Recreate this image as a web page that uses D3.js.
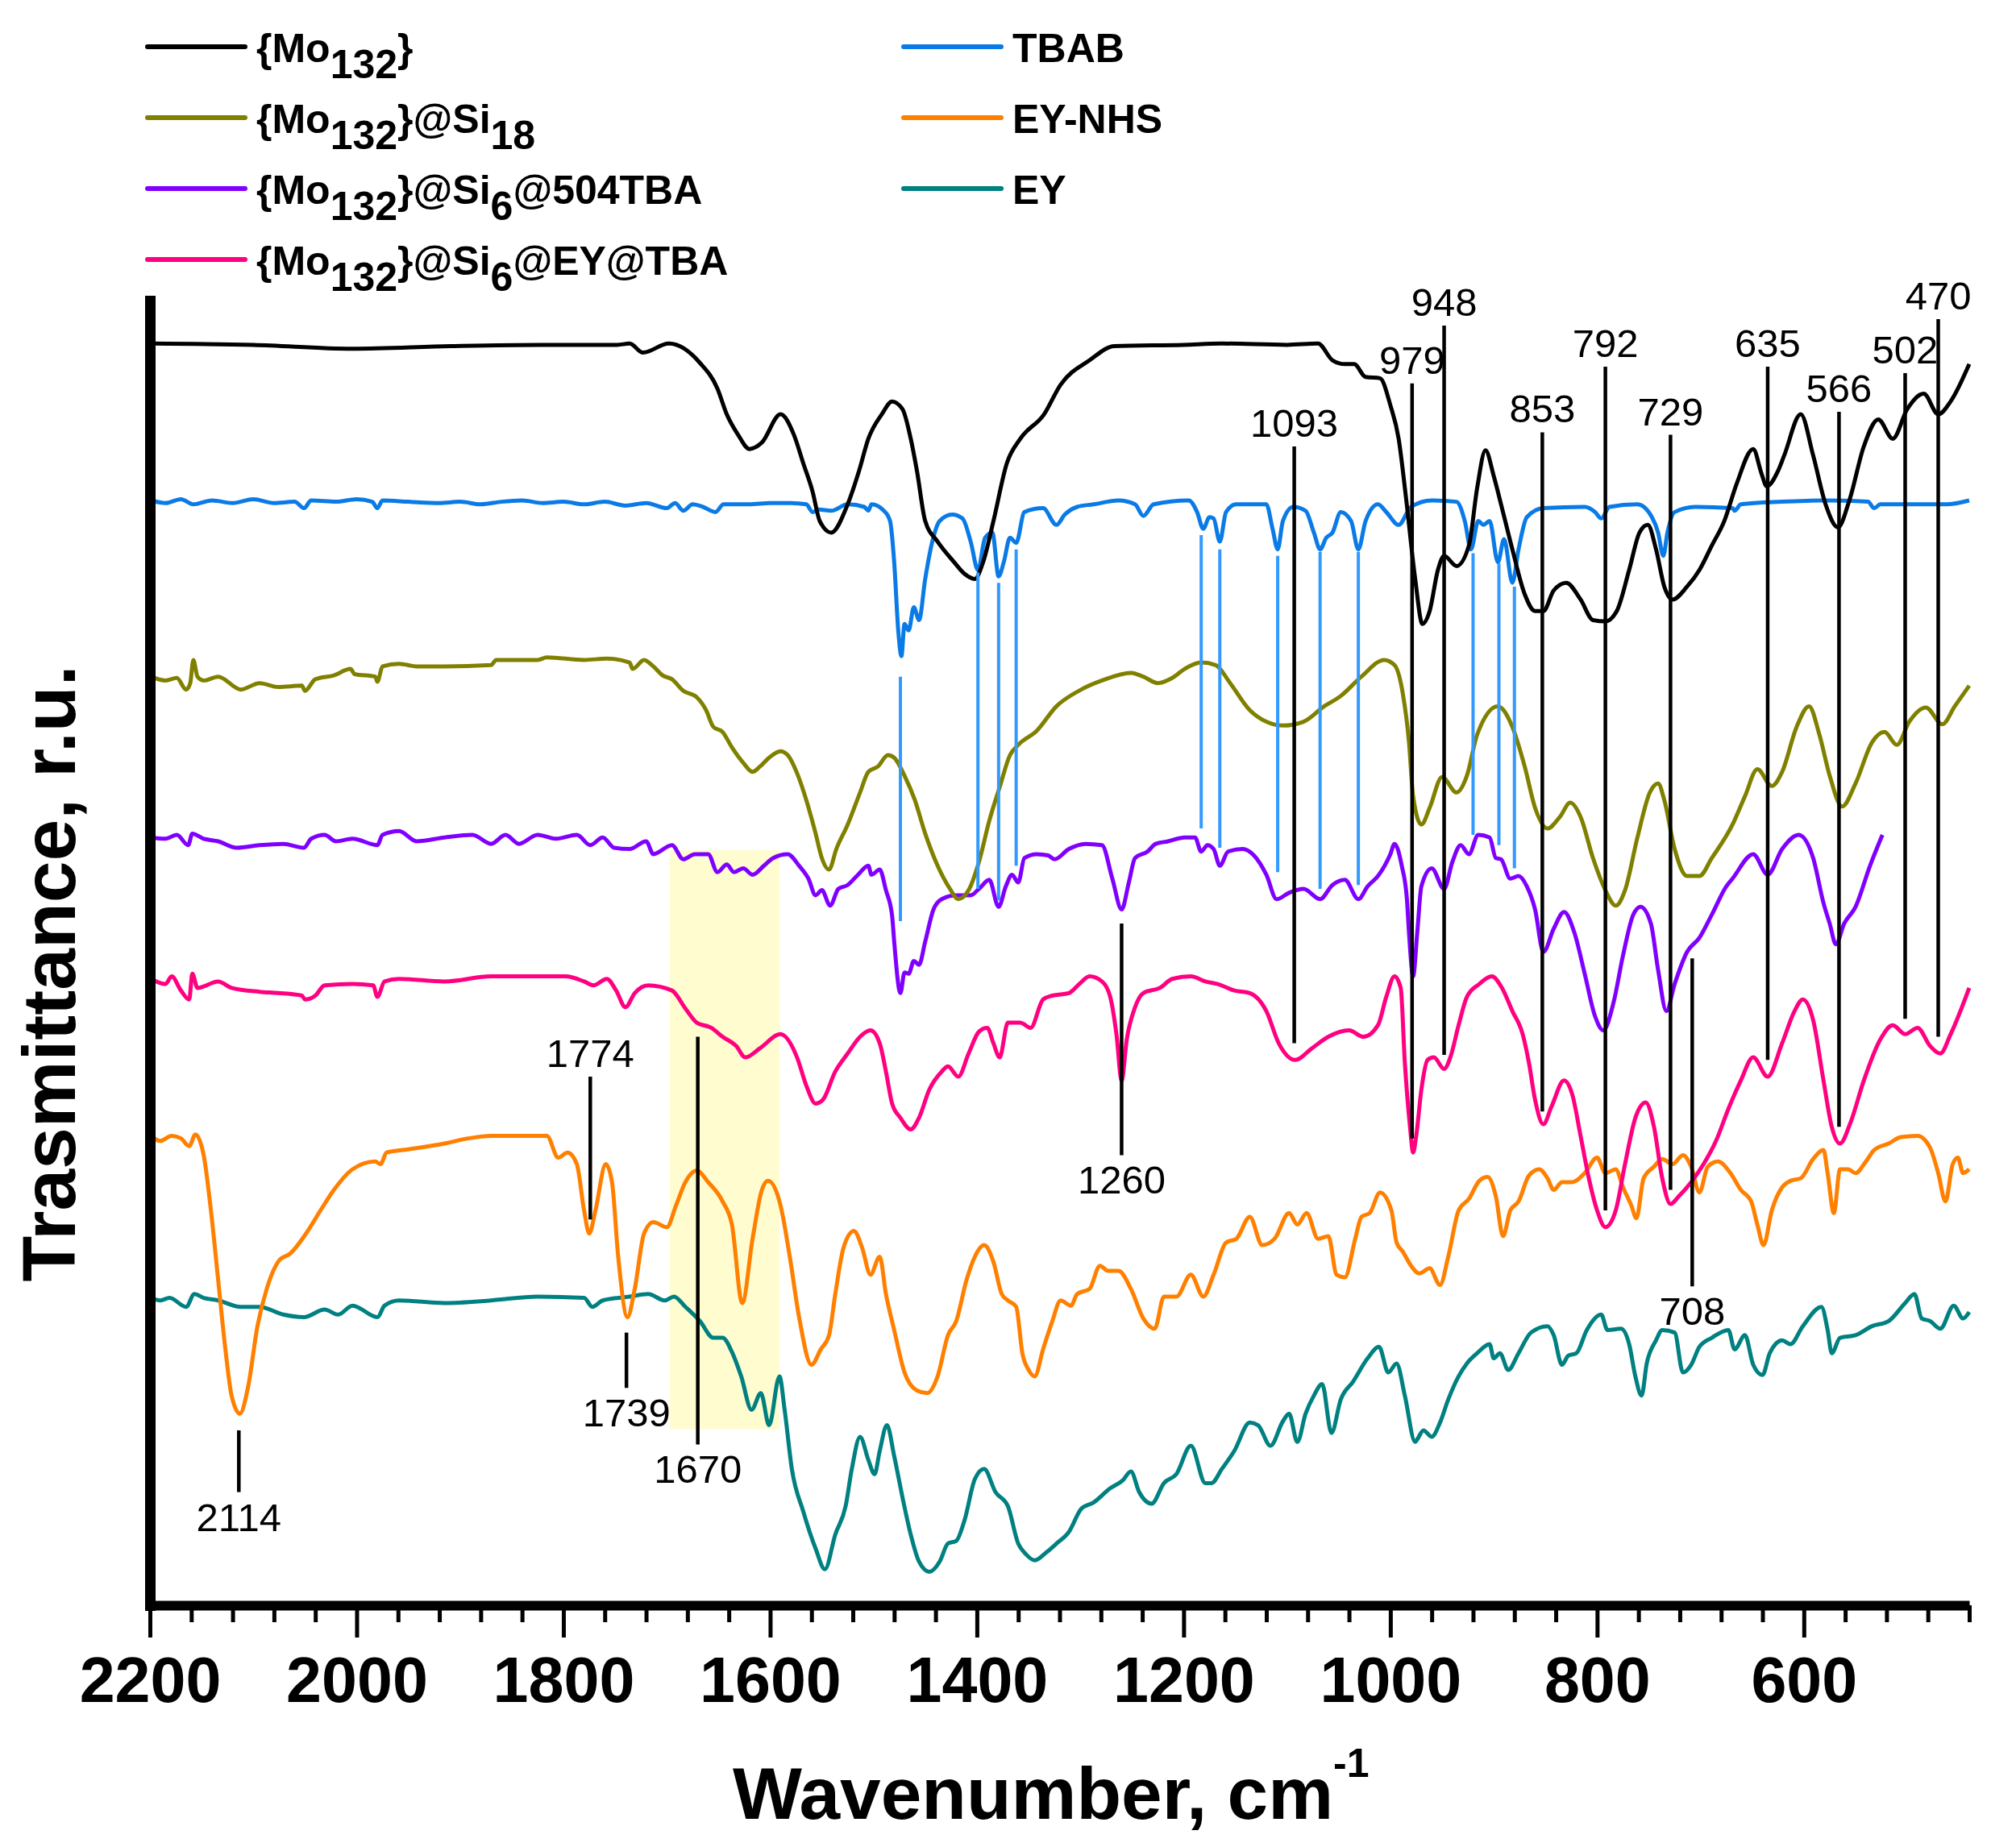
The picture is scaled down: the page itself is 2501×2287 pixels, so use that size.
<!DOCTYPE html>
<html>
<head>
<meta charset="utf-8">
<script src="https://cdn.jsdelivr.net/npm/d3@7"></script>
<style>
  body { margin: 0; background: #fff; }
  svg { display: block; }
  text { font-family: "Liberation Sans", Arial, Helvetica, sans-serif; }
</style>
</head>
<body>
<div id="chart"></div>
<script>
// FTIR spectra, stacked; x = wavenumber (cm-1), y = transmittance in relative units (offset traces)

var xMajorTicks = [2200, 2000, 1800, 1600, 1400, 1200, 1000, 800, 600];
var xMinorTicks = [2160, 2120, 2080, 2040, 1960, 1920, 1880, 1840, 1760, 1720, 1680, 1640,
                   1560, 1520, 1480, 1440, 1360, 1320, 1280, 1240, 1160, 1120, 1080, 1040,
                   960, 920, 880, 840, 760, 720, 680, 640, 560, 520, 480, 440];

var mo132 = [[2198,981],[2100,980],[2004,977],[1909,979],[1822,980],[1748,980],[1736,981],[1723,974],[1698,981],[1668,966],[1651,946],[1642,926],[1631,910],[1620,899],[1608,904],[1590,926],[1577,910],[1568,888],[1559,866],[1552,843],[1541,834],[1525,856],[1514,882],[1505,907],[1492,926],[1482,936],[1472,930],[1464,907],[1458,882],[1450,843],[1438,827],[1422,811],[1412,802],[1402,798],[1394,811],[1384,843],[1371,888],[1358,907],[1335,926],[1319,949],[1291,968],[1267,979],[1200,980],[1163,981],[1100,980],[1070,981],[1056,968],[1044,965],[1035,965],[1024,955],[1010,954],[1000,933],[992,907],[985,862],[976,798],[969,763],[962,773],[954,805],[948,816],[936,808],[924,824],[916,869],[908,898],[900,878],[892,853],[882,821],[870,786],[860,773],[852,773],[842,789],[830,795],[816,782],[804,766],[792,765],[781,773],[769,805],[759,834],[751,840],[743,821],[735,792],[727,782],[713,792],[701,805],[689,824],[677,843],[665,872],[649,899],[641,880],[636,870],[625,882],[619,894],[603,926],[591,894],[579,856],[567,838],[556,859],[542,901],[528,922],[514,907],[500,930],[484,942],[470,926],[458,936],[440,965]];

var tbab = [[2199,859],[2185,857],[2170,860],[2158,856],[2140,859],[2120,857],[2100,860],[2080,857],[2060,858],[2051,853],[2044,859],[2020,858],[2000,860],[1985,858],[1980,853],[1975,859],[1950,858],[1920,857],[1900,858],[1880,856],[1860,858],[1840,859],[1820,857],[1800,858],[1780,856],[1760,858],[1740,855],[1720,857],[1700,853],[1692,857],[1684,851],[1675,856],[1665,854],[1653,850],[1645,856],[1620,856],[1600,857],[1580,857],[1565,856],[1559,850],[1553,852],[1541,851],[1525,856],[1509,854],[1505,851],[1502,856],[1490,851],[1484,843],[1480,811],[1476,757],[1473,738],[1470,763],[1466,758],[1461,776],[1456,766],[1450,798],[1444,824],[1436,843],[1424,848],[1414,845],[1406,827],[1399,805],[1392,830],[1385,834],[1379,800],[1374,811],[1368,830],[1362,826],[1354,850],[1336,853],[1323,840],[1315,848],[1303,854],[1287,856],[1263,859],[1247,856],[1239,847],[1229,856],[1195,859],[1187,850],[1181,837],[1175,846],[1171,845],[1165,827],[1159,850],[1149,856],[1120,856],[1114,837],[1109,821],[1104,843],[1094,854],[1082,851],[1074,834],[1068,821],[1062,830],[1056,834],[1048,850],[1038,843],[1031,821],[1024,843],[1012,856],[1004,850],[992,840],[980,854],[960,859],[936,858],[928,843],[922,821],[915,843],[910,840],[904,843],[896,811],[890,829],[882,795],[876,821],[868,846],[852,853],[812,854],[802,850],[796,845],[788,854],[761,856],[747,846],[741,834],[736,816],[732,834],[725,850],[705,854],[669,853],[667,851],[661,856],[621,858],[581,859],[538,858],[532,853],[526,856],[462,856],[440,859]];

var si18 = [[2199,722],[2185,719],[2174,721],[2165,712],[2161,717],[2158,735],[2154,722],[2148,719],[2134,722],[2112,712],[2094,717],[2076,714],[2053,715],[2050,711],[2040,720],[2022,723],[2006,728],[2002,724],[1982,722],[1980,718],[1975,730],[1959,732],[1942,730],[1915,730],[1870,731],[1865,735],[1825,735],[1816,737],[1780,735],[1758,736],[1736,733],[1733,728],[1722,735],[1713,730],[1704,723],[1695,720],[1684,711],[1671,706],[1662,696],[1655,683],[1646,679],[1637,667],[1626,655],[1617,648],[1610,652],[1601,659],[1590,664],[1583,661],[1574,647],[1565,626],[1556,600],[1550,581],[1543,572],[1536,588],[1525,607],[1513,632],[1505,648],[1496,652],[1486,661],[1480,659],[1470,645],[1460,626],[1450,600],[1438,575],[1426,557],[1418,549],[1408,556],[1398,578],[1388,610],[1378,636],[1368,661],[1360,669],[1342,680],[1323,699],[1299,712],[1279,719],[1251,725],[1239,722],[1225,717],[1211,721],[1199,728],[1183,733],[1169,731],[1155,717],[1136,696],[1120,687],[1104,684],[1084,687],[1064,699],[1048,707],[1028,722],[1006,735],[996,731],[988,709],[982,671],[978,629],[970,607],[962,620],[950,644],[936,632],[926,645],[916,677],[896,699],[882,683],[870,652],[860,620],[848,604],[836,613],[826,624],[816,613],[804,581],[792,556],[782,544],[773,556],[761,597],[749,632],[741,639],[735,626],[725,588],[713,567],[701,567],[689,581],[669,607],[657,629],[645,650],[631,637],[621,648],[607,683],[595,699],[585,677],[575,645],[563,621],[550,639],[534,671],[522,679],[510,669],[498,687],[482,698],[466,685],[454,699],[440,715]];

var tba504 = [[2199,597],[2185,596],[2174,599],[2163,591],[2159,600],[2148,596],[2134,594],[2116,589],[2094,591],[2071,592],[2051,589],[2044,596],[2031,599],[2020,594],[2004,596],[1980,591],[1975,599],[1959,602],[1942,594],[1915,597],[1888,599],[1870,592],[1856,599],[1843,592],[1825,599],[1807,596],[1787,599],[1774,591],[1762,597],[1751,589],[1736,588],[1720,594],[1713,584],[1695,591],[1684,580],[1673,584],[1660,584],[1651,570],[1642,576],[1635,570],[1626,573],[1617,568],[1606,575],[1597,581],[1583,584],[1572,575],[1563,565],[1556,552],[1550,556],[1542,544],[1534,557],[1525,560],[1515,568],[1505,575],[1502,568],[1494,572],[1488,556],[1482,536],[1480,516],[1474,476],[1470,492],[1466,491],[1461,501],[1456,498],[1450,516],[1442,541],[1434,549],[1420,552],[1406,552],[1398,557],[1388,564],[1379,543],[1372,559],[1366,568],[1360,562],[1354,581],[1342,584],[1331,583],[1325,580],[1311,588],[1295,592],[1279,591],[1269,565],[1260,541],[1253,562],[1247,581],[1235,586],[1227,592],[1215,594],[1199,597],[1189,597],[1183,586],[1177,591],[1171,588],[1165,575],[1157,586],[1143,588],[1132,583],[1120,568],[1110,549],[1098,554],[1084,557],[1068,549],[1056,560],[1044,564],[1031,549],[1022,559],[1012,567],[1000,584],[996,592],[989,575],[984,549],[982,523],[978,489],[974,523],[970,559],[960,573],[948,557],[940,578],[932,591],[924,584],[915,599],[904,597],[898,581],[893,580],[884,565],[876,567],[868,559],[860,541],[852,508],[842,526],[832,539],[822,523],[812,491],[802,458],[794,447],[784,469],[775,505],[765,537],[758,543],[748,530],[741,494],[733,462],[725,483],[713,508],[701,519],[689,537],[675,559],[669,565],[649,584],[635,568],[621,588],[605,599],[591,581],[581,546],[575,530],[569,514],[561,530],[550,543],[536,575],[524,599]];

var eyTba = [[2199,487],[2185,483],[2179,489],[2170,478],[2162,471],[2159,491],[2154,480],[2134,485],[2121,480],[2094,477],[2076,476],[2053,474],[2050,471],[2040,474],[2031,482],[2004,483],[1984,482],[1980,473],[1973,485],[1959,487],[1915,485],[1870,489],[1825,489],[1798,489],[1780,485],[1771,482],[1758,487],[1749,478],[1740,465],[1731,476],[1718,482],[1695,478],[1682,464],[1671,453],[1657,449],[1646,442],[1633,435],[1624,426],[1610,433],[1590,444],[1574,426],[1565,404],[1556,390],[1549,393],[1537,415],[1525,429],[1513,442],[1503,447],[1494,437],[1488,415],[1482,390],[1474,379],[1464,370],[1456,379],[1446,401],[1434,415],[1428,419],[1418,411],[1408,429],[1398,446],[1390,449],[1384,437],[1378,426],[1370,453],[1358,453],[1348,449],[1336,471],[1327,474],[1311,476],[1301,483],[1291,489],[1279,485],[1271,473],[1265,444],[1260,408],[1255,440],[1247,465],[1239,476],[1223,480],[1211,487],[1193,489],[1179,485],[1167,483],[1151,478],[1136,476],[1120,462],[1108,437],[1092,424],[1076,433],[1060,442],[1040,447],[1026,442],[1012,451],[1004,473],[996,489],[990,480],[986,422],[981,372],[978,352],[975,365],[970,401],[964,424],[958,426],[948,417],[942,426],[934,451],[926,473],[914,483],[902,489],[892,480],[882,462],[872,444],[866,422],[860,393],[852,374],[844,388],[832,408],[824,397],[816,365],[808,332],[800,307],[792,294],[782,307],[773,343],[763,379],[753,391],[745,372],[737,332],[729,312],[721,318],[709,329],[697,343],[685,361],[673,386],[661,408],[649,426],[635,411],[621,437],[609,462],[601,471],[591,455],[581,408],[573,372],[565,359],[555,375],[542,408],[526,440],[514,451],[502,444],[490,449],[478,435],[468,429],[458,444],[440,480]];

var eyNhs = [[2199,365],[2190,361],[2179,365],[2170,363],[2162,357],[2156,366],[2148,350],[2141,307],[2134,253],[2127,199],[2121,163],[2113,149],[2105,170],[2096,217],[2087,246],[2074,269],[2065,273],[2049,289],[2035,307],[2022,323],[2004,339],[1982,345],[1977,343],[1971,352],[1955,354],[1937,356],[1915,359],[1892,363],[1870,365],[1847,365],[1816,365],[1805,348],[1796,352],[1787,343],[1780,307],[1775,289],[1769,307],[1759,343],[1753,329],[1747,271],[1738,224],[1731,246],[1722,289],[1713,298],[1700,294],[1691,311],[1682,329],[1671,338],[1660,329],[1646,314],[1637,296],[1627,235],[1617,285],[1608,323],[1602,330],[1590,311],[1581,271],[1572,224],[1560,187],[1551,199],[1543,210],[1537,242],[1529,278],[1519,291],[1511,278],[1503,257],[1494,271],[1488,242],[1480,214],[1470,181],[1458,167],[1448,165],[1438,178],[1428,210],[1420,221],[1410,253],[1402,271],[1393,280],[1384,267],[1376,242],[1370,237],[1362,232],[1356,196],[1350,183],[1344,178],[1336,199],[1327,221],[1319,237],[1309,233],[1303,242],[1291,246],[1281,264],[1273,260],[1263,260],[1251,246],[1239,223],[1228,215],[1219,240],[1207,240],[1193,257],[1181,240],[1171,257],[1159,282],[1149,285],[1136,302],[1124,280],[1112,285],[1098,305],[1090,296],[1081,305],[1070,285],[1060,287],[1052,257],[1044,255],[1034,285],[1028,302],[1020,305],[1010,321],[999,307],[994,282],[988,275],[980,264],[972,258],[962,262],[952,249],[944,271],[934,307],[924,316],[914,330],[906,333],[898,318],[891,287],[884,307],[876,314],[866,334],[856,339],[848,332],[842,323],[834,329],[824,329],[812,336],[800,348],[792,336],[782,339],[775,325],[767,311],[762,301],[755,332],[745,341],[737,347],[727,343],[717,350],[709,341],[701,321],[693,341],[683,345],[671,336],[661,323],[651,314],[645,296],[639,280],[631,307],[621,325],[613,330],[603,332],[591,347],[581,354],[577,336],[571,305],[565,339],[557,339],[550,336],[540,345],[532,354],[518,359],[506,364],[490,365],[478,356],[470,336],[463,314],[456,343],[451,348],[446,336],[440,339]];

var ey = [[2199,239],[2190,237],[2181,239],[2165,232],[2157,242],[2148,239],[2134,237],[2112,232],[2094,232],[2071,226],[2051,224],[2031,230],[2018,226],[2004,233],[1980,224],[1973,233],[1959,237],[1915,235],[1870,237],[1825,240],[1780,239],[1772,232],[1762,237],[1736,240],[1718,242],[1702,237],[1693,240],[1682,232],[1668,221],[1655,208],[1646,208],[1637,197],[1628,178],[1618,152],[1609,165],[1601,140],[1591,178],[1586,152],[1579,106],[1568,73],[1556,44],[1547,28],[1537,55],[1527,77],[1521,106],[1513,131],[1505,113],[1499,102],[1494,120],[1487,140],[1480,116],[1472,84],[1464,55],[1456,34],[1446,26],[1436,34],[1428,48],[1420,50],[1412,66],[1402,98],[1393,106],[1382,88],[1370,77],[1360,48],[1354,41],[1344,35],[1333,41],[1323,48],[1311,57],[1299,75],[1287,80],[1271,91],[1259,97],[1251,104],[1243,88],[1231,79],[1219,95],[1207,102],[1193,124],[1179,95],[1173,95],[1163,106],[1151,120],[1136,142],[1128,140],[1116,124],[1104,143],[1098,149],[1090,127],[1082,149],[1074,163],[1066,172],[1057,134],[1048,160],[1036,174],[1022,192],[1011,201],[1002,181],[994,188],[986,163],[976,127],[974,129],[968,136],[960,131],[952,142],[944,160],[934,178],[926,188],[916,196],[904,203],[900,192],[894,196],[886,183],[876,196],[864,212],[848,217],[842,210],[834,187],[828,194],[820,196],[810,214],[796,226],[790,214],[777,215],[769,203],[763,178],[757,163],[752,188],[743,206],[737,214],[725,212],[717,181],[709,187],[701,201],[689,208],[673,214],[667,199],[657,210],[649,187],[640,179],[633,196],[621,206],[613,203],[601,217],[583,232],[577,214],[573,196],[565,208],[550,210],[534,217],[518,221],[502,235],[493,242],[486,223],[478,221],[468,215],[455,233],[446,223],[440,228]];

// TBAB band positions dropped onto the composite trace: [wavenumber, from, to]
var tbabDrops = [[1474,722,532],[1399,803,557],[1379,795,548],[1362,821,575],[1183,832,604],[1165,821,589],
                 [1109,816,570],[1068,819,557],[1031,819,560],[920,818,599],[895,810,591],[880,792,573]];

// labelled bands: [wavenumber, line top, line bottom, label side]
var bandMarks = [[1093,901,437,'top'],[979,950,363,'top'],[948,995,428,'top'],[853,912,384,'top'],
                 [792,963,307,'top'],[729,910,323,'top'],[635,963,424,'top'],[566,928,372,'top'],
                 [502,958,456,'top'],[470,1000,442,'top'],[1774,411,300,'top'],
                 [1260,530,350,'bottom'],[708,503,248,'bottom'],[1739,212,169,'bottom'],
                 [1670,442,125,'bottom'],[2114,136,88,'bottom']];

var highlightBand = [1697, 1591];
var highlightLevels = [137, 587];

var seriesNames = ['{Mo_132}', '{Mo_132}@Si_18', '{Mo_132}@Si_6@504TBA', '{Mo_132}@Si_6@EY@TBA', 'TBAB', 'EY-NHS', 'EY'];
var seriesColors = ['#000000', '#808000', '#8000ff', '#ff0080', '#0a7be6', '#ff8000', '#008080'];
var seriesData = [mo132, si18, tba504, eyTba, tbab, eyNhs, ey];

var width = 2501, height = 2287;
var svg = d3.select('#chart').append('svg')
    .attr('width', width)
    .attr('height', height);

var x = d3.scaleLinear().domain([2200, 440]).range([186, 2443]);
var y = d3.scaleLinear().domain([0, 1014.4]).range([1992, 373]);

// yellow highlight behind the traces
svg.append('rect')
    .attr('x', x(highlightBand[0]))
    .attr('width', x(highlightBand[1]) - x(highlightBand[0]))
    .attr('y', y(highlightLevels[1]))
    .attr('height', y(highlightLevels[0]) - y(highlightLevels[1]))
    .attr('fill', '#fffdd0');

var line = d3.line()
    .x(function(d){ return x(d[0]); })
    .y(function(d){ return y(d[1]); })
    .curve(d3.curveMonotoneX);

// draw bottom trace first so the top ones sit over it
var drawOrder = [6, 5, 3, 2, 1, 4, 0];
drawOrder.forEach(function(i){
    svg.append('path')
        .attr('d', line(seriesData[i]))
        .attr('fill', 'none')
        .attr('stroke', seriesColors[i])
        .attr('stroke-width', 5)
        .attr('stroke-linejoin', 'round');
});

// light blue drop lines
svg.append('g').selectAll('line')
    .data(tbabDrops)
    .enter().append('line')
    .attr('x1', function(d){ return x(d[0]); })
    .attr('x2', function(d){ return x(d[0]); })
    .attr('y1', function(d){ return y(d[1]); })
    .attr('y2', function(d){ return y(d[2]); })
    .attr('stroke', '#3399ff')
    .attr('stroke-width', 4);

// black band markers with labels
var marks = svg.append('g');
marks.selectAll('line')
    .data(bandMarks)
    .enter().append('line')
    .attr('x1', function(d){ return x(d[0]); })
    .attr('x2', function(d){ return x(d[0]); })
    .attr('y1', function(d){ return y(d[1]); })
    .attr('y2', function(d){ return y(d[2]); })
    .attr('stroke', '#000')
    .attr('stroke-width', 4.5);
marks.selectAll('text')
    .data(bandMarks)
    .enter().append('text')
    .attr('x', function(d){ return x(d[0]); })
    .attr('y', function(d){ return d[3] === 'top' ? y(d[1]) - 12 : y(d[2]) + 48; })
    .attr('text-anchor', 'middle')
    .attr('font-size', 49)
    .attr('fill', '#000')
    .text(function(d){ return d[0]; });

// axes
var xAxis = d3.axisBottom(x)
    .tickValues(xMajorTicks)
    .tickSize(40)
    .tickPadding(24)
    .tickSizeOuter(0)
    .tickFormat(d3.format('d'));
var gx = svg.append('g').attr('transform', 'translate(0,1992)').call(xAxis);
gx.select('.domain').attr('stroke', '#000').attr('stroke-width', 12);
gx.selectAll('.tick line').attr('stroke', '#000').attr('stroke-width', 5);
gx.selectAll('.tick text')
    .attr('font-size', 79)
    .attr('font-weight', 'bold')
    .attr('font-family', '"Liberation Sans", Arial, sans-serif')
    .attr('fill', '#000');

var xMinor = d3.axisBottom(x)
    .tickValues(xMinorTicks)
    .tickSize(21)
    .tickSizeOuter(0)
    .tickFormat('');
var gxm = svg.append('g').attr('transform', 'translate(0,1992)').call(xMinor);
gxm.select('.domain').remove();
gxm.selectAll('.tick line').attr('stroke', '#000').attr('stroke-width', 5);

var yAxis = d3.axisLeft(y).tickValues([]).tickSizeOuter(0);
var gy = svg.append('g').attr('transform', 'translate(186,0)').call(yAxis);
gy.select('.domain').attr('stroke', '#000').attr('stroke-width', 13).attr('stroke-linecap', 'square');

// axis titles
var xt = svg.append('text')
    .attr('x', 909)
    .attr('y', 2257)
    .attr('font-size', 91)
    .attr('font-weight', 'bold')
    .text('Wavenumber, cm');
xt.append('tspan')
    .attr('font-size', 50)
    .attr('dy', -52)
    .text('-1');

svg.append('text')
    .attr('transform', 'translate(93,1208) rotate(-90)')
    .attr('text-anchor', 'middle')
    .attr('font-size', 93)
    .attr('font-weight', 'bold')
    .text('Trasmittance, r.u.');

// legend, two columns
var legendSlots = [[183, 58], [183, 146], [183, 234], [183, 322], [1121, 58], [1121, 146], [1121, 234]];
var legend = svg.append('g');
seriesNames.forEach(function(name, i){
    var lx = legendSlots[i][0], ly = legendSlots[i][1];
    legend.append('line')
        .attr('x1', lx).attr('x2', lx + 121)
        .attr('y1', ly).attr('y2', ly)
        .attr('stroke', seriesColors[i])
        .attr('stroke-width', 6)
        .attr('stroke-linecap', 'round');
    var t = legend.append('text')
        .attr('x', lx + 135)
        .attr('y', ly + 19)
        .attr('font-size', 50)
        .attr('font-weight', 'bold');
    // "_123" marks a subscript
    var parts = name.split(/(_\d+)/).filter(function(p){ return p.length; });
    var low = false;
    parts.forEach(function(p){
        var isSub = p.charAt(0) === '_';
        var shift = 0;
        if (isSub && !low) { shift = 20; low = true; }
        else if (!isSub && low) { shift = -20; low = false; }
        t.append('tspan').attr('dy', shift).text(isSub ? p.slice(1) : p);
    });
});
</script>
</body>
</html>
